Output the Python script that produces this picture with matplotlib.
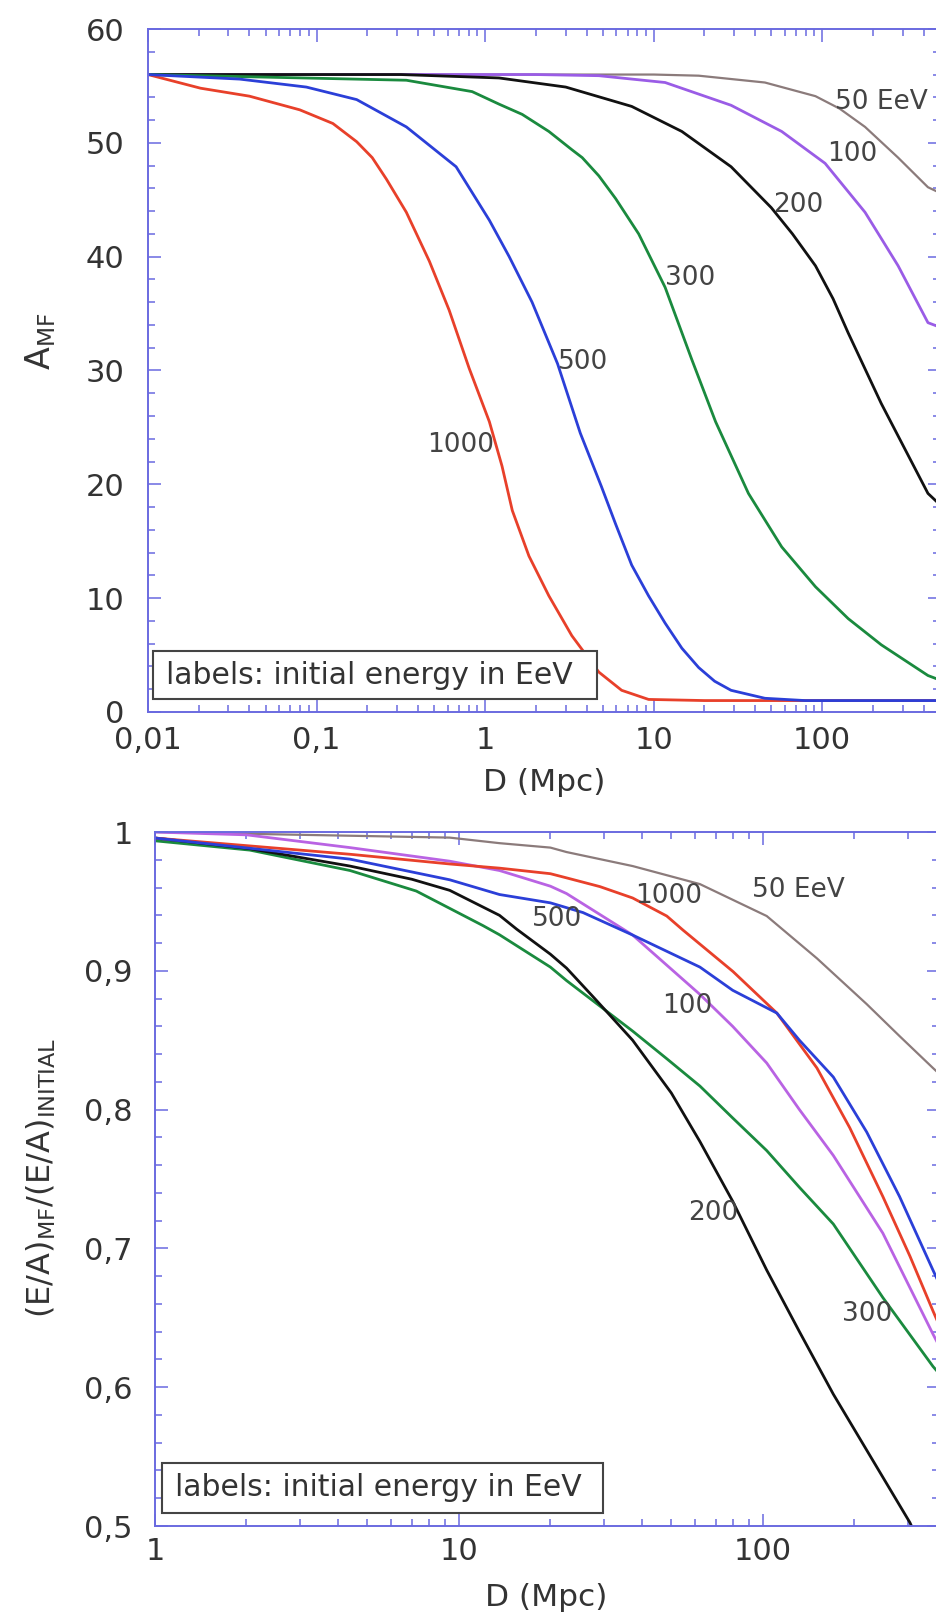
import matplotlib
matplotlib.use("Agg")
import matplotlib.pyplot as plt
import matplotlib.ticker as mticker
from matplotlib.patches import Rectangle

plt.rcParams['font.family'] = ['DejaVu Sans']
plt.rcParams['mathtext.fontset'] = 'dejavusans'

# ---- top panel: mean mass number A_MF vs distance, per initial energy (EeV)
top_d_50 = [0.01, 10, 18.5, 45.7, 91.2, 127, 179.5, 282, 424, 500]
top_a_50 = [56, 56, 55.9, 55.3, 54.1, 53.0, 51.4, 48.7, 46.1, 45.6]

top_d_100 = [0.01, 2.0, 4.73, 11.7, 28.8, 57.5, 104, 179.5, 224, 282, 424, 500]
top_a_100 = [56, 56, 55.9, 55.3, 53.3, 51.0, 48.2, 43.9, 41.6, 39.2, 34.2, 33.8]

top_d_200 = [0.01, 0.316, 1.21, 3.01, 7.41, 14.7, 28.8, 49.9, 66.6, 91.2, 116, 142.6, 224, 424, 500]
top_a_200 = [56, 56, 55.7, 54.9, 53.2, 51.0, 47.9, 44.3, 42.0, 39.2, 36.3, 33.3, 27.1, 19.2, 18.2]

top_d_300 = [0.01, 0.341, 0.838, 1.21, 1.66, 2.39, 3.27, 3.77, 4.73, 5.95, 8.15, 11.7, 16.8,
             23.3, 36.5, 57.5, 91.2, 142.6, 224, 424, 500]
top_a_300 = [56, 55.5, 54.5, 53.4, 52.5, 51.0, 49.4, 48.7, 47.1, 45.1, 42.0, 37.3, 31.0,
             25.5, 19.2, 14.5, 11.0, 8.2, 5.9, 3.2, 2.8]

top_d_500 = [0.01, 0.035, 0.087, 0.173, 0.341, 0.673, 1.06, 1.39, 1.90, 2.69, 3.67, 4.90,
             5.95, 7.41, 9.33, 11.7, 14.7, 18.5, 23, 28.8, 45.7, 79, 500]
top_a_500 = [56, 55.6, 54.9, 53.8, 51.4, 47.9, 43.2, 40.0, 36.0, 30.6, 24.5, 19.8,
             16.5, 12.9, 10.2, 7.8, 5.6, 3.9, 2.7, 1.9, 1.2, 1.0, 1.0]

top_d_1000 = [0.01, 0.0205, 0.040, 0.0795, 0.125, 0.173, 0.214, 0.26, 0.341, 0.467, 0.612, 0.804,
              1.06, 1.26, 1.45, 1.82, 2.39, 3.27, 4.73, 6.46, 9.33, 20, 500]
top_a_1000 = [56, 54.8, 54.1, 52.9, 51.7, 50.1, 48.7, 46.8, 43.9, 39.6, 35.3, 30.2,
              25.5, 21.6, 17.7, 13.7, 10.2, 6.7, 3.5, 1.9, 1.1, 1.0, 1.0]

# ---- bottom panel: (E/A)_MF / (E/A)_initial vs distance
bot_d_50 = [1, 9.33, 13.6, 20, 22.6, 37.3, 62.1, 103, 150.7, 219.8, 281.8, 363, 380]
bot_r_50 = [1.0, 0.996, 0.992, 0.9888, 0.9856, 0.9755, 0.9625, 0.9395, 0.909, 0.876, 0.853, 0.83, 0.826]

bot_d_100 = [1, 2.0, 4.38, 9.33, 13.6, 20, 22.6, 37.3, 62.1, 79.6, 103, 132, 170.6, 248.3, 363, 380]
bot_r_100 = [1.0, 0.998, 0.9888, 0.979, 0.9723, 0.961, 0.9557, 0.9258, 0.883, 0.860, 0.8336, 0.80,
             0.767, 0.711, 0.6383, 0.63]

bot_d_200 = [1, 2.05, 4.38, 7.0, 9.33, 13.6, 15.5, 20, 22.6, 28, 37.3, 50, 62.1, 79.6, 103, 132,
             170.6, 304.8, 316]
bot_r_200 = [0.9957, 0.988, 0.9755, 0.966, 0.958, 0.940, 0.930, 0.912, 0.902, 0.880, 0.85, 0.812,
             0.777, 0.734, 0.6844, 0.640, 0.595, 0.5025, 0.495]

bot_d_300 = [1, 2.05, 4.38, 7.24, 12.0, 13.6, 20, 22.6, 37.3, 48.3, 62.1, 79.6, 103, 132, 170.6,
             248.3, 363, 380]
bot_r_300 = [0.9937, 0.987, 0.9723, 0.9575, 0.9326, 0.926, 0.9027, 0.893, 0.8566, 0.8367, 0.817,
             0.794, 0.7705, 0.744, 0.7176, 0.6646, 0.615, 0.61]

bot_d_500 = [1, 4.38, 9.33, 13.6, 20, 25.6, 37.3, 62.1, 79.6, 111.2, 132, 170.6, 219.8, 281.8, 363, 380]
bot_r_500 = [0.9957, 0.9805, 0.9656, 0.955, 0.949, 0.942, 0.9258, 0.9027, 0.886, 0.8696, 0.85,
             0.8235, 0.7838, 0.7374, 0.6844, 0.675]

bot_d_1000 = [1, 4.38, 9.33, 13.6, 20, 22.6, 29.1, 37.3, 48.3, 54.6, 79.8, 111.2, 150.7, 193.2,
              248.3, 304.8, 363, 380]
bot_r_1000 = [0.9957, 0.984, 0.977, 0.974, 0.970, 0.967, 0.9607, 0.9525, 0.9395, 0.9294, 0.8995,
              0.8696, 0.83, 0.787, 0.7374, 0.6945, 0.655, 0.645]

axis_blue = '#6a6ae0'
text_grey = '#333333'
label_grey = '#444444'

top_colors = {'50': '#8b7b7b', '100': '#9a5ce6', '200': '#111111',
              '300': '#1a8a3e', '500': '#2b3fd8', '1000': '#e8402a'}
bot_colors = {'50': '#8b7b7b', '100': '#b963e3', '200': '#111111',
              '300': '#1a8a3e', '500': '#2b3fd8', '1000': '#e8402a'}

top_series = {'50': (top_d_50, top_a_50), '100': (top_d_100, top_a_100),
              '200': (top_d_200, top_a_200), '300': (top_d_300, top_a_300),
              '1000': (top_d_1000, top_a_1000), '500': (top_d_500, top_a_500)}
bot_series = {'50': (bot_d_50, bot_r_50), '300': (bot_d_300, bot_r_300),
              '200': (bot_d_200, bot_r_200), '100': (bot_d_100, bot_r_100),
              '1000': (bot_d_1000, bot_r_1000), '500': (bot_d_500, bot_r_500)}

# curve label anchors (data coords, left edge / vertical centre)
top_labels = {'50 EeV': (119.4, 53.6), '100': (107, 49.0), '200': (51.2, 44.55),
              '300': (11.7, 38.1), '500': (2.71, 30.75), '1000': (0.453, 23.46)}
bot_labels = {'50 EeV': (92, 0.958), '1000': (37.9, 0.954), '500': (17.4, 0.9375),
              '100': (46.5, 0.8746), '200': (56.6, 0.7258), '300': (182, 0.653)}


def comma_fmt(v, pos):
    return f'{v:g}'.replace('.', ',')


def style_axes(ax):
    for sp in ax.spines.values():
        sp.set_color(axis_blue)
        sp.set_linewidth(1.4)
    ax.tick_params(which='both', direction='in', top=True, right=True,
                   color=axis_blue, width=1.1, labelcolor=text_grey, labelsize=22)
    ax.tick_params(which='major', length=9)
    ax.tick_params(which='minor', length=5)
    ax.xaxis.set_major_formatter(mticker.FuncFormatter(comma_fmt))
    ax.xaxis.set_minor_formatter(mticker.NullFormatter())
    ax.yaxis.set_major_formatter(mticker.FuncFormatter(comma_fmt))


def label_box(ax, x0, x1, y0, y1, tx, ty):
    ax.add_patch(Rectangle((x0, y0), x1 - x0, y1 - y0, transform=ax.transAxes,
                           facecolor='white', edgecolor=label_grey, lw=1.5, zorder=5))
    ax.text(tx, ty, 'labels: initial energy in EeV', transform=ax.transAxes,
            ha='left', va='center', fontsize=21.5, color=text_grey, zorder=6)


fig = plt.figure(figsize=(9.36, 16.21), dpi=100)
fig.patch.set_facecolor('white')

# top panel
ax1 = fig.add_axes([0.1581, 0.5608, 0.8462, 0.4213])
for e, (d, a) in top_series.items():
    lw = 1.6 if e == '50' else 2.0
    ax1.plot(d, a, color=top_colors[e], lw=lw, solid_joinstyle='round')
ax1.set_xscale('log')
ax1.set_xlim(0.01, 500)
ax1.set_ylim(0, 60)
ax1.yaxis.set_major_locator(mticker.MultipleLocator(10))
ax1.yaxis.set_minor_locator(mticker.MultipleLocator(2))
style_axes(ax1)
ax1.tick_params(axis='y', pad=17)
ax1.tick_params(axis='x', pad=10)
for txt, (x, y) in top_labels.items():
    ax1.text(x, y, txt, ha='left', va='center', fontsize=19, color=label_grey, zorder=4)
label_box(ax1, 0.0063, 0.567, 0.019, 0.0893, 0.0227, 0.054)

# bottom panel
ax2 = fig.add_axes([0.1656, 0.0586, 0.8376, 0.4281])
for e, (d, r) in bot_series.items():
    lw = 1.6 if e == '50' else 2.0
    ax2.plot(d, r, color=bot_colors[e], lw=lw, solid_joinstyle='round')
ax2.set_xscale('log')
ax2.set_xlim(1, 380)
ax2.set_ylim(0.5, 1.0)
ax2.yaxis.set_major_locator(mticker.MultipleLocator(0.1))
ax2.yaxis.set_minor_locator(mticker.MultipleLocator(0.02))
style_axes(ax2)
ax2.tick_params(axis='y', pad=16)
ax2.tick_params(axis='x', pad=8)
for txt, (x, y) in bot_labels.items():
    ax2.text(x, y, txt, ha='left', va='center', fontsize=19, color=label_grey, zorder=4)
label_box(ax2, 0.0089, 0.571, 0.0187, 0.0908, 0.026, 0.056)

# axis titles
fig.text(0.581, 1 - 782 / 1621, 'D (Mpc)', ha='center', va='center', fontsize=22.5, color=text_grey)
fig.text(0.583, 1 - 1598 / 1621, 'D (Mpc)', ha='center', va='center', fontsize=22.5, color=text_grey)
fig.text(0.0438, 1 - 341 / 1621, r'$\mathregular{A_{MF}}$', rotation=90,
         ha='center', va='center', fontsize=24, color=text_grey)
fig.text(0.0438, 1 - 1178 / 1621, r'$\mathregular{(E/A)_{MF}/(E/A)_{INITIAL}}$', rotation=90,
         ha='center', va='center', fontsize=23, color=text_grey)

fig.savefig('out.png', dpi=100)
